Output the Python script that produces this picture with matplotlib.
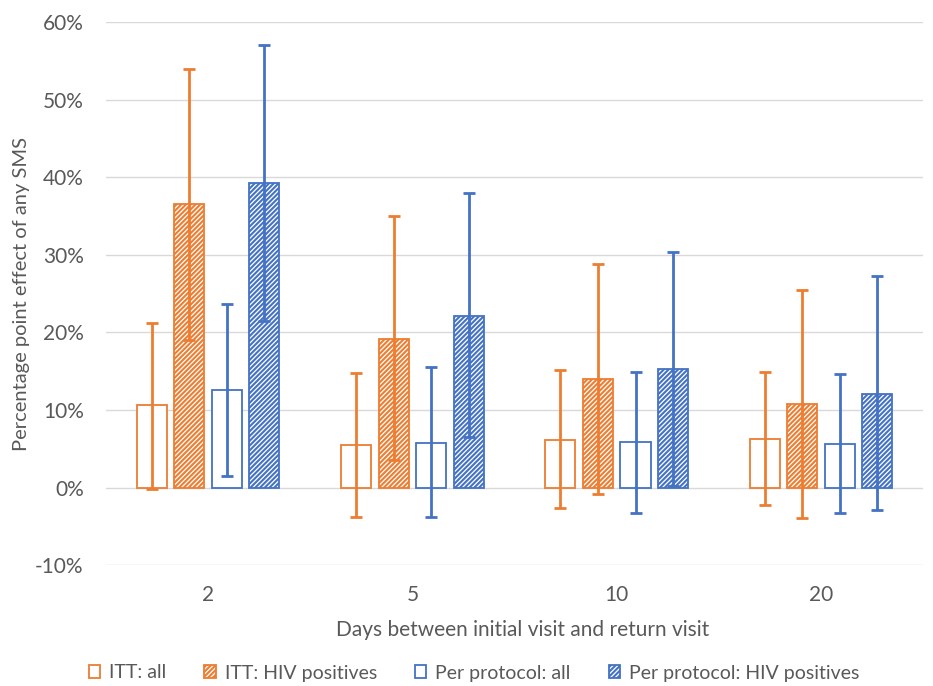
import matplotlib
matplotlib.use("Agg")
import matplotlib.pyplot as plt
import numpy as np
from matplotlib.patches import Patch
from matplotlib.ticker import FuncFormatter

plt.rcParams['font.family'] = ['Lato', 'DejaVu Sans']
plt.rcParams['hatch.linewidth'] = 1.5

categories = ['2', '5', '10', '20']
series_names = ['ITT: all', 'ITT: HIV positives', 'Per protocol: all', 'Per protocol: HIV positives']
values = {
    'ITT: all': [10.6, 5.5, 6.1, 6.3],
    'ITT: HIV positives': [36.5, 19.1, 14.0, 10.8],
    'Per protocol: all': [12.6, 5.7, 5.9, 5.6],
    'Per protocol: HIV positives': [39.2, 22.1, 15.3, 12.1],
}
upper = {
    'ITT: all': [21.2, 14.8, 15.1, 14.9],
    'ITT: HIV positives': [54.0, 35.0, 28.8, 25.5],
    'Per protocol: all': [23.6, 15.5, 14.9, 14.7],
    'Per protocol: HIV positives': [57.0, 37.9, 30.4, 27.3],
}
lower = {
    'ITT: all': [-0.2, -3.8, -2.6, -2.3],
    'ITT: HIV positives': [19.0, 3.5, -0.8, -3.9],
    'Per protocol: all': [1.5, -3.8, -3.3, -3.3],
    'Per protocol: HIV positives': [21.5, 6.5, 0.2, -2.9],
}
y_ticks = [-10, 0, 10, 20, 30, 40, 50, 60]

orange = '#ED7D31'
blue = '#4472C4'
colors = [orange, orange, blue, blue]
hatches = [None, '/' * 7, None, '/' * 7]
text_color = '#595959'

fig = plt.figure(figsize=(9.33, 6.86), dpi=100)
ax = fig.add_axes([0.1135, 0.176, 0.876, 0.792])

x = np.arange(len(categories))
step = 0.184
width = 0.147
offsets = [-1.5, -0.5, 0.5, 1.5]
for i, name in enumerate(series_names):
    xs = x + offsets[i] * step
    v = np.array(values[name])
    ax.bar(xs, v, width=width, facecolor='white', edgecolor=colors[i],
           hatch=hatches[i], linewidth=1.3, zorder=2)
    yerr = np.array([v - np.array(lower[name]), np.array(upper[name]) - v])
    ax.errorbar(xs, v, yerr=yerr, fmt='none', ecolor=colors[i], elinewidth=2,
                capsize=4, capthick=2, zorder=3)

ax.set_xlim(-0.5, 3.5)
ax.set_ylim(-10, 60)
ax.set_yticks(y_ticks)
ax.yaxis.set_major_formatter(FuncFormatter(lambda v, p: f"{int(v)}%"))
ax.set_xticks(x)
ax.set_xticklabels(categories)
ax.grid(axis='y', color='#D9D9D9', linewidth=1, zorder=0)
ax.set_axisbelow(True)
for s in ax.spines.values():
    s.set_visible(False)
ax.tick_params(axis='y', length=0, labelsize=15, colors=text_color, pad=16)
ax.tick_params(axis='x', length=0, labelsize=15, colors=text_color, pad=14)
ax.set_ylabel('Percentage point effect of any SMS', fontsize=14.5, color=text_color, labelpad=4)
ax.set_xlabel('Days between initial visit and return visit', fontsize=15, color=text_color)
ax.xaxis.set_label_coords(0.51, -0.101)

handles = [Patch(facecolor='white', edgecolor=colors[i], hatch=hatches[i], linewidth=1.3)
           for i in range(4)]
fig.legend(handles, series_names, loc='center', bbox_to_anchor=(0.508, 13 / 686),
           ncol=4, frameon=False, fontsize=14, handlelength=0.6, handleheight=0.6,
           columnspacing=1.95, handletextpad=0.45, labelcolor=text_color,
           borderpad=0, borderaxespad=0)

fig.savefig('out.png', dpi=100)
